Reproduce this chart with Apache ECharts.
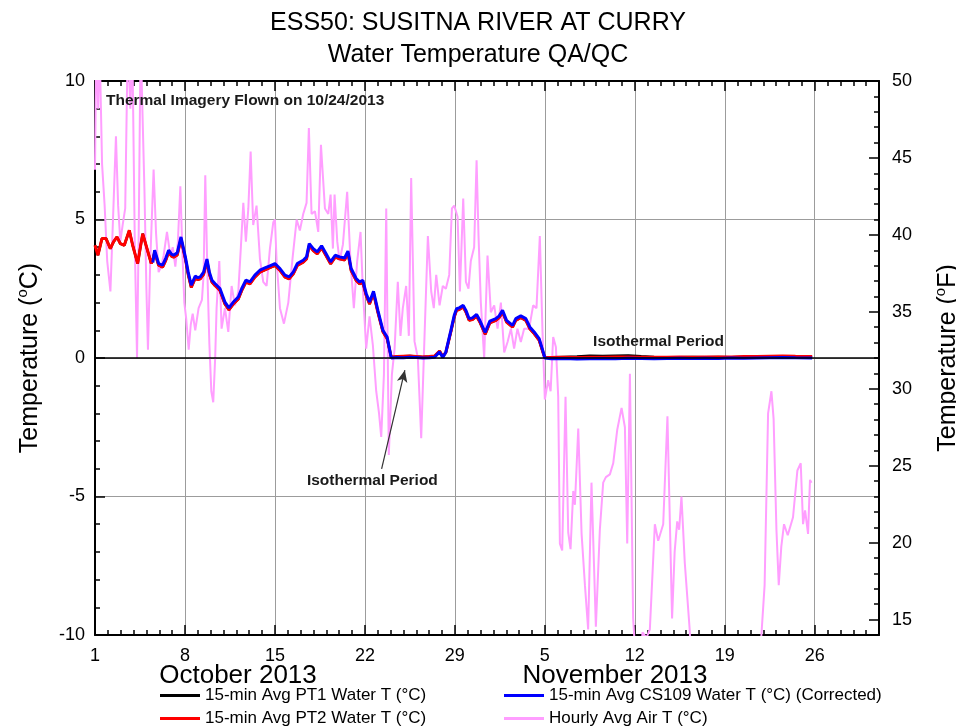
<!DOCTYPE html>
<html><head><meta charset="utf-8">
<script src="https://cdn.jsdelivr.net/npm/echarts@6.0.0/dist/echarts.min.js"></script>
<style>html,body{margin:0;padding:0;background:#fff}#c{width:956px;height:727px}</style>
</head><body><div id="c"></div>
<script>
// ---- tick labels ----
const xTickLabels = ['1','8','15','22','29','5','12','19','26'];
const fTickValues = [15,20,25,30,35,40,45,50];
const monthLabels = ['October 2013','November 2013'];

// ---- water temperature (days since Oct 1 2013 00:00) ----
const waterDays = [
 0.0,0.23,0.54,0.86,1.19,1.45,1.71,1.97,2.28,2.67,
 2.93,3.32,3.71,3.97,4.38,4.5,4.64,4.95,5.26,5.5,
 5.73,5.95,6.12,6.4,6.69,7.03,7.25,7.49,7.8,8.0,
 8.19,8.45,8.71,8.9,9.1,9.33,9.72,10.11,10.42,10.76,
 11.15,11.41,11.74,12.06,12.44,12.83,13.22,13.61,14.0,14.39,
 14.78,15.11,15.43,15.74,16.2,16.46,16.67,16.98,17.29,17.63,
 17.97,18.33,18.69,19.03,19.42,19.68,19.93,20.32,20.58,20.84,
 21.1,21.36,21.67,22.01,22.4,22.73,23.05,23.5,24.0,24.5,
 25.0,25.5,26.0,26.42,26.81,27.06,27.3,27.69,27.95,28.13,
 28.34,28.65,28.86,29.11,29.37,29.69,29.94,30.36,30.72,31.19,
 31.45,31.71,32.02,32.49,32.74,33.13,33.52,33.83,34.17,34.56,
 34.87,35.0,35.5,36.5,37.5,38.5,39.5,40.5,41.5,42.5,
 43.5,44.5,45.5,46.5,47.5,48.5,49.5,50.5,51.5,52.5,
 53.5,54.5,55.8];
const cs109Water = [
 null,null,null,null,null,null,null,null,null,null,
 null,null,null,null,null,3.45,3.89,3.41,3.35,3.6,
 3.89,3.75,3.71,3.8,4.37,3.65,3.1,2.63,2.96,2.9,
 2.93,3.1,3.57,3.1,2.81,2.69,2.51,2.02,1.81,2.02,
 2.2,2.5,2.81,2.75,2.99,3.17,3.25,3.33,3.41,3.23,
 2.99,2.93,3.11,3.41,3.53,3.65,4.13,3.95,3.83,4.05,
 3.77,3.47,3.71,3.65,3.61,3.86,3.23,2.87,2.75,2.8,
 2.33,2.02,2.41,1.72,1.0,0.76,0.0,0.02,0.01,0.03,
 0.02,0.0,0.01,0.03,0.22,0.02,0.22,1.0,1.54,1.78,
 1.81,1.9,1.72,1.42,1.45,1.57,1.36,0.92,1.33,1.42,
 1.52,1.72,1.36,1.18,1.42,1.52,1.42,1.12,0.94,0.7,
 0.22,0.0,-0.03,-0.02,-0.04,-0.03,-0.02,-0.03,-0.01,-0.02,
 -0.03,-0.02,-0.01,-0.02,-0.01,-0.02,0.0,-0.01,0.0,0.01,
 0.02,0.01,0.0];
const pt2Water = [
 4.07,3.71,4.31,4.31,3.95,4.2,4.37,4.13,4.07,4.61,
 4.07,3.41,4.49,4.07,3.41,3.55,3.82,3.35,3.28,3.52,
 3.82,3.68,3.64,3.72,4.3,3.58,3.02,2.55,2.88,2.83,
 2.86,3.02,3.5,3.03,2.74,2.62,2.44,1.95,1.74,1.95,
 2.13,2.43,2.74,2.68,2.92,3.1,3.18,3.26,3.34,3.16,
 2.92,2.86,3.04,3.34,3.46,3.58,4.06,3.88,3.76,3.98,
 3.7,3.4,3.64,3.58,3.54,3.79,3.16,2.8,2.68,2.73,
 2.26,1.95,2.34,1.65,0.95,0.7,0.03,0.05,0.06,0.07,
 0.05,0.04,0.05,0.07,0.25,0.05,0.2,0.95,1.48,1.72,
 1.75,1.84,1.66,1.36,1.39,1.51,1.3,0.86,1.27,1.36,
 1.46,1.66,1.3,1.12,1.36,1.46,1.36,1.06,0.88,0.64,
 0.18,0.02,0.02,0.03,0.02,0.03,0.03,0.04,0.04,0.03,
 0.03,0.03,0.04,0.03,0.04,0.04,0.04,0.05,0.05,0.06,
 0.07,0.06,0.05];
const pt1Water = [
 4.07,3.71,4.31,4.31,3.95,4.2,4.37,4.13,4.07,4.61,
 4.07,3.41,4.49,4.07,3.41,3.55,3.82,3.35,3.28,3.52,
 3.82,3.68,3.64,3.72,4.3,3.58,3.02,2.55,2.88,2.83,
 2.86,3.02,3.5,3.03,2.74,2.62,2.44,1.95,1.74,1.95,
 2.13,2.43,2.74,2.68,2.92,3.1,3.18,3.26,3.34,3.16,
 2.92,2.86,3.04,3.34,3.46,3.58,4.06,3.88,3.76,3.98,
 3.7,3.4,3.64,3.58,3.54,3.79,3.16,2.8,2.68,2.73,
 2.26,1.95,2.34,1.65,0.95,0.7,0.03,0.05,0.06,0.07,
 0.05,0.04,0.05,0.07,0.25,0.05,0.2,0.95,1.48,1.72,
 1.75,1.84,1.66,1.36,1.39,1.51,1.3,0.86,1.27,1.36,
 1.46,1.66,1.3,1.12,1.36,1.46,1.36,1.06,0.88,0.64,
 0.18,0.02,0.03,0.04,0.05,0.08,0.07,0.08,0.09,0.06,
 0.04,0.03,0.03,0.04,0.03,0.04,0.03,0.04,0.04,0.05,
 0.05,0.05,0.04];

// ---- hourly air temperature ----
const airDays = [
 0.0,0.1,0.25,0.35,0.55,0.75,0.95,1.2,1.4,1.63,
 1.8,1.97,2.15,2.35,2.55,2.75,2.9,3.1,3.27,3.4,
 3.55,3.7,3.85,4.0,4.12,4.3,4.56,4.75,4.95,5.15,
 5.34,5.6,5.86,6.05,6.25,6.45,6.64,6.8,6.95,7.1,
 7.29,7.45,7.6,7.8,8.06,8.32,8.45,8.58,8.75,8.9,
 9.05,9.2,9.35,9.46,9.67,9.85,10.11,10.37,10.63,10.89,
 11.15,11.35,11.54,11.74,11.93,12.11,12.31,12.57,12.83,13.09,
 13.35,13.61,13.87,14.0,14.13,14.39,14.7,15.04,15.37,15.69,
 15.94,16.2,16.46,16.64,16.85,17.11,17.37,17.58,17.89,18.15,
 18.33,18.51,18.64,18.85,19.03,19.29,19.62,19.88,20.14,20.4,
 20.66,20.84,21.1,21.36,21.62,21.88,22.1,22.27,22.48,22.66,
 22.86,23.1,23.31,23.56,23.77,23.95,24.21,24.42,24.6,24.86,
 25.12,25.38,25.64,25.9,26.16,26.36,26.55,26.81,27.06,27.3,
 27.56,27.77,27.95,28.21,28.39,28.65,28.86,29.06,29.24,29.5,
 29.69,29.84,30.02,30.28,30.54,30.8,31.06,31.32,31.58,31.84,
 32.1,32.36,32.61,32.87,33.13,33.39,33.78,34.09,34.35,34.61,
 34.82,35.0,35.26,35.45,35.65,35.86,36.04,36.17,36.35,36.61,
 36.82,37.0,37.21,37.34,37.6,37.86,38.12,38.37,38.63,38.82,
 38.97,39.28,39.54,39.75,40.06,40.32,40.63,40.97,41.23,41.41,
 41.62,41.87,42.08,42.35,42.6,42.91,43.17,43.56,43.82,44.21,
 44.54,44.9,45.1,45.3,45.45,45.63,45.89,46.27,46.5,47.5,
 48.5,49.5,50.5,51.4,51.85,52.1,52.37,52.63,52.8,53.02,
 53.2,53.4,53.61,53.9,54.31,54.65,54.91,55.09,55.25,55.48,
 55.63,55.75];
const airTemp = [
 6.8,11.5,9.0,11.5,7.0,5.5,3.5,2.4,5.0,8.0,
 5.5,4.2,4.8,5.4,11.5,9.0,11.5,4.0,0.0,4.5,
 11.5,11.5,6.0,2.5,0.3,3.5,6.8,4.5,3.1,3.3,
 3.7,4.55,3.7,4.0,3.3,4.2,6.2,3.8,2.0,1.4,
 0.3,1.2,1.6,1.0,1.8,2.1,3.0,6.6,3.0,0.5,
 -1.2,-1.6,0.0,1.8,3.5,1.06,1.8,0.94,2.6,1.9,
 2.4,4.0,5.6,4.2,5.4,7.45,4.8,5.5,3.6,2.75,
 2.6,3.95,4.9,5.0,3.5,1.8,1.24,2.0,3.6,5.0,
 4.6,5.2,5.6,8.3,5.2,5.3,4.55,7.7,5.4,5.2,
 5.9,3.95,5.9,4.2,3.5,4.1,6.0,3.5,1.8,3.5,
 4.55,2.5,0.34,1.5,0.46,-1.2,-2.0,-2.85,-0.6,5.4,
 -3.5,-0.6,0.34,2.75,0.8,1.8,2.6,0.8,6.5,0.6,
 0.0,-2.9,0.8,4.4,2.4,1.8,3.0,1.9,2.6,2.5,
 3.0,5.4,5.5,5.1,2.4,5.76,2.75,2.5,3.5,4.0,
 7.14,4.4,2.0,0.0,3.7,1.65,1.9,1.06,2.0,0.2,
 0.58,1.06,0.34,1.06,0.58,1.06,1.06,1.9,1.8,4.4,
 0.94,-1.5,-0.8,-1.2,0.76,0.4,-1.4,-6.7,-6.95,-1.4,
 -6.3,-6.9,-4.8,-5.3,-2.55,-6.35,-8.2,-9.8,-4.5,-7.4,
 -9.7,-6.2,-4.5,-4.3,-4.2,-3.8,-2.6,-1.8,-2.5,-6.7,
 -0.57,-9.4,-11,-11.5,-9.9,-10.1,-9.8,-6.0,-6.6,-6.0,
 -2.1,-9.4,-7.0,-5.9,-6.2,-5.0,-7.4,-9.8,-12,-15,
 -14,-15,-14,-13,-10,-8.2,-2.0,-1.2,-2.2,-6.2,
 -8.2,-6.8,-6.0,-6.4,-5.75,-4.06,-3.8,-6.0,-5.5,-6.35,
 -4.4,-4.5];

const seriesNames = ['15-min Avg PT1 Water T (°C)','15-min Avg PT2 Water T (°C)',
  '15-min Avg CS109 Water T (°C) (Corrected)','Hourly Avg Air T (°C)'];

const FONT = 'Arial, "Liberation Sans", Helvetica, sans-serif';
function pairs(xs, ys){ return xs.map((x,i)=>[x, ys[i]]); }

const chart = echarts.init(document.getElementById('c'));
const GRID = {left:95, right:77, top:81, bottom:92, containLabel:false, outerBoundsMode:'none'};
const tickStyle = {color:'#000', width:1.5};
const frame = {show:true, onZero:false, lineStyle:{color:'#000', width:2}};
const noLine = {show:false, onZero:false};

function legendItem(name, left, top){
  return {data:[name], orient:'vertical', left:left, top:top,
    icon:'rect', itemWidth:40, itemHeight:3, itemGap:4,
    textStyle:{fontSize:17, lineHeight:16, color:'#000', fontFamily:FONT}};
}

const option = {
  backgroundColor:'#fff',
  animation:false,
  textStyle:{fontFamily:FONT},
  title:[
    {text:'ESS50: SUSITNA RIVER AT CURRY', left:'center', top:6,
     textStyle:{fontSize:25, fontWeight:'normal', color:'#000', fontFamily:FONT}},
    {text:'Water Temperature QA/QC', left:'center', top:38,
     textStyle:{fontSize:25, fontWeight:'normal', color:'#000', fontFamily:FONT}}
  ],
  grid:[Object.assign({}, GRID), Object.assign({}, GRID)],
  legend:[
    legendItem(seriesNames[0], 155, 682),
    legendItem(seriesNames[1], 155, 705),
    legendItem(seriesNames[2], 499, 682),
    legendItem(seriesNames[3], 499, 705)
  ],
  xAxis:[
    {type:'value', gridIndex:0, min:0, max:61, interval:7, position:'bottom',
     axisLine:frame,
     axisTick:{show:true, inside:true, length:10, lineStyle:tickStyle},
     axisLabel:{margin:12, fontSize:18, color:'#000', fontFamily:FONT,
       formatter:v=>{const i=Math.round(v/7); return (Math.abs(v-i*7)<1e-6 && xTickLabels[i])||'';}},
     splitLine:{show:true, lineStyle:{color:'#9c9c9c', width:1}}},
    {type:'value', gridIndex:0, min:0, max:61, interval:7, position:'top',
     axisLine:frame,
     axisTick:{show:true, inside:true, length:10, lineStyle:tickStyle},
     axisLabel:{show:false}, splitLine:{show:false}},
    {type:'value', gridIndex:1, min:0, max:61, interval:1, position:'bottom',
     axisLine:noLine, axisTick:{show:true, inside:true, length:5, lineStyle:tickStyle},
     axisLabel:{show:false}, splitLine:{show:false}},
    {type:'value', gridIndex:1, min:0, max:61, interval:1, position:'top',
     axisLine:noLine, axisTick:{show:true, inside:true, length:5, lineStyle:tickStyle},
     axisLabel:{show:false}, splitLine:{show:false}}
  ],
  yAxis:[
    {type:'value', gridIndex:0, min:-10, max:10, interval:5, position:'left',
     axisLine:frame,
     axisTick:{show:true, inside:true, length:10, lineStyle:tickStyle},
     axisLabel:{margin:10, fontSize:18, color:'#000', fontFamily:FONT},
     splitLine:{show:true, lineStyle:{color:'#9c9c9c', width:1}},
     name:'Temperature ({s|o}C)', nameLocation:'middle', nameRotate:90, nameGap:50,
     nameTextStyle:{fontSize:25, color:'#000', fontFamily:FONT,
       rich:{s:{fontSize:15, color:'#000', fontFamily:FONT, padding:[0,0,15,0]}}}},
    {type:'value', gridIndex:0, min:14, max:50, position:'right',
     axisLine:frame,
     axisTick:{show:true, inside:true, length:10, lineStyle:tickStyle, customValues:fTickValues},
     axisLabel:{margin:13, fontSize:18, color:'#000', fontFamily:FONT, customValues:fTickValues},
     splitLine:{show:false},
     name:'Temperature ({s|o}F)', nameLocation:'middle', nameRotate:90, nameGap:54,
     nameTextStyle:{fontSize:25, color:'#000', fontFamily:FONT,
       rich:{s:{fontSize:15, color:'#000', fontFamily:FONT, padding:[0,0,15,0]}}}},
    {type:'value', gridIndex:1, min:-10, max:10, interval:1, position:'left',
     axisLine:noLine, axisTick:{show:true, inside:true, length:5, lineStyle:tickStyle},
     axisLabel:{show:false}, splitLine:{show:false}},
    {type:'value', gridIndex:1, min:14, max:50, interval:1, position:'right',
     axisLine:noLine, axisTick:{show:true, inside:true, length:5, lineStyle:tickStyle},
     axisLabel:{show:false}, splitLine:{show:false}}
  ],
  graphic:[
    {type:'text', left:106, top:93, z:20,
     style:{text:'Thermal Imagery Flown on 10/24/2013', font:'bold 15.5px '+FONT, fill:'#1a1a1a'}},
    {type:'text', x:238, y:676, z:20,
     style:{text:monthLabels[0], font:'26px '+FONT, fill:'#000', align:'center', verticalAlign:'middle'}},
    {type:'text', x:615, y:676, z:20,
     style:{text:monthLabels[1], font:'26px '+FONT, fill:'#000', align:'center', verticalAlign:'middle'}}
  ],
  series:[
    {name:seriesNames[3], type:'line', xAxisIndex:0, yAxisIndex:0, z:1,
     data:pairs(airDays, airTemp), symbol:'none', showSymbol:false, clip:true,
     lineStyle:{color:'#ff9eff', width:2}, itemStyle:{color:'#ff9eff'}},
    {name:seriesNames[0], type:'line', xAxisIndex:0, yAxisIndex:0, z:2,
     data:pairs(waterDays, pt1Water), symbol:'none', showSymbol:false, clip:true,
     lineStyle:{color:'#000', width:2.5}, itemStyle:{color:'#000'},
     markLine:{silent:true, symbol:['none','none'], label:{show:false},
       data:[
         {yAxis:0, lineStyle:{color:'#000', width:1.5, type:'solid'}},
         [{coord:[22.3,-4.0], symbol:'none'},
          {coord:[24.11,-0.44], symbol:'arrow', symbolSize:[8,12]}]
       ],
       lineStyle:{color:'#333', width:1.2, type:'solid'}}},
    {name:seriesNames[1], type:'line', xAxisIndex:0, yAxisIndex:0, z:3,
     data:pairs(waterDays, pt2Water), symbol:'none', showSymbol:false, clip:true,
     lineStyle:{color:'#ff0000', width:3}, itemStyle:{color:'#ff0000'}},
    {name:seriesNames[2], type:'line', xAxisIndex:0, yAxisIndex:0, z:4,
     data:pairs(waterDays, cs109Water), symbol:'none', showSymbol:false, clip:true,
     connectNulls:false,
     lineStyle:{color:'#0000ff', width:3}, itemStyle:{color:'#0000ff'},
     markPoint:{silent:true, symbol:'rect', symbolSize:1, itemStyle:{color:'rgba(0,0,0,0)'},
       label:{show:true, position:'inside', formatter:'Isothermal Period',
         fontSize:15.5, fontWeight:'bold', color:'#1a1a1a', fontFamily:FONT},
       data:[{coord:[21.58,-4.44]}, {coord:[43.85,0.58]}]}}
  ]
};
chart.setOption(option);
</script>
</body></html>
